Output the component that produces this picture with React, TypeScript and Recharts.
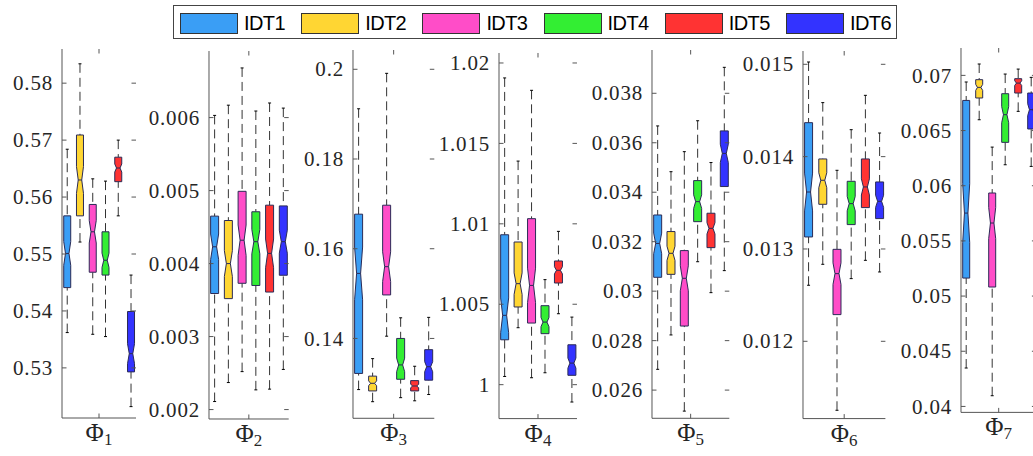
import React from "react";
import { ComposedChart, Bar, XAxis, YAxis } from "recharts";

const groups = ["IDT1", "IDT2", "IDT3", "IDT4", "IDT5", "IDT6"];
const colors = ["#3a9ef5", "#ffd633", "#ff4dc8", "#33ee33", "#ff3333", "#3333ff"];

// each row: [whisker low, q1, median, q3, whisker high]
const phi1 = [
  [0.5362, 0.5441, 0.5501, 0.5567, 0.5684],
  [0.5521, 0.5567, 0.563, 0.5709, 0.5834],
  [0.5359, 0.5468, 0.5539, 0.5587, 0.5632],
  [0.5355, 0.5463, 0.5489, 0.5539, 0.5628],
  [0.5567, 0.5627, 0.5651, 0.567, 0.57],
  [0.5232, 0.5293, 0.5325, 0.5399, 0.5463],
];
const phi2 = [
  [0.00211, 0.00359, 0.00423, 0.00465, 0.00603],
  [0.00237, 0.00352, 0.004, 0.00459, 0.00617],
  [0.00252, 0.00373, 0.00432, 0.00499, 0.00668],
  [0.00227, 0.0037, 0.0043, 0.00471, 0.00609],
  [0.00228, 0.00361, 0.00414, 0.0048, 0.0062],
  [0.00255, 0.00384, 0.0043, 0.00479, 0.00613],
];
const phi3 = [
  [0.1286, 0.1322, 0.1545, 0.1677, 0.1912],
  [0.1259, 0.1283, 0.13, 0.1316, 0.1355],
  [0.1405, 0.1497, 0.156, 0.1697, 0.1991],
  [0.1268, 0.1309, 0.1341, 0.14, 0.1446],
  [0.1261, 0.1283, 0.1294, 0.1306, 0.1338],
  [0.1275, 0.1307, 0.1337, 0.1375, 0.1447],
];
const phi4 = [
  [1.00051, 1.00279, 1.00431, 1.00932, 1.01907],
  [1.00354, 1.00483, 1.00628, 1.00887, 1.0139],
  [1.00043, 1.00383, 1.00617, 1.01032, 1.0183],
  [1.00074, 1.00317, 1.00389, 1.00491, 1.00653],
  [1.00441, 1.00632, 1.00711, 1.00769, 1.00953],
  [0.99892, 1.00058, 1.00134, 1.00248, 1.0042],
];
const phi5 = [
  [0.02684, 0.03056, 0.03193, 0.03308, 0.03668],
  [0.02823, 0.03068, 0.03153, 0.03241, 0.03483],
  [0.02515, 0.02859, 0.03052, 0.03164, 0.03564],
  [0.03119, 0.03281, 0.03362, 0.03447, 0.03689],
  [0.02994, 0.03176, 0.03254, 0.03315, 0.0352],
  [0.03083, 0.03423, 0.03557, 0.03648, 0.03905],
];
const phi6 = [
  [0.012607, 0.01313, 0.013617, 0.014368, 0.015025],
  [0.012834, 0.013484, 0.013744, 0.013975, 0.014585],
  [0.011253, 0.012289, 0.012733, 0.012996, 0.013852],
  [0.012679, 0.013264, 0.013491, 0.013733, 0.014292],
  [0.012877, 0.013448, 0.013672, 0.013975, 0.014664],
  [0.012751, 0.013329, 0.013516, 0.013726, 0.014256],
];
const phi7 = [
  [0.04348, 0.05163, 0.05752, 0.06773, 0.0694],
  [0.06598, 0.06795, 0.06891, 0.06961, 0.07103],
  [0.04097, 0.05082, 0.05662, 0.05934, 0.0635],
  [0.0619, 0.06393, 0.06644, 0.06834, 0.07012],
  [0.06674, 0.0684, 0.0693, 0.0697, 0.07057],
  [0.06175, 0.06514, 0.06689, 0.0684, 0.06982],
];

const ticks1 = [0.53, 0.54, 0.55, 0.56, 0.57, 0.58];
const ticks2 = [0.002, 0.003, 0.004, 0.005, 0.006];
const ticks3 = [0.14, 0.16, 0.18, 0.2];
const ticks4 = [1, 1.005, 1.01, 1.015, 1.02];
const ticks5 = [0.026, 0.028, 0.03, 0.032, 0.034, 0.036, 0.038];
const ticks6 = [0.012, 0.013, 0.014, 0.015];
const ticks7 = [0.04, 0.045, 0.05, 0.055, 0.06, 0.065, 0.07];

const panels = [
  { stats: phi1, ticks: ticks1, domain: [0.5212, 0.586], left: 62, right: 136, top: 49, bottom: 418 },
  { stats: phi2, ticks: ticks2, domain: [0.001871, 0.006912], left: 209.3, right: 289, top: 50.7, bottom: 418.7 },
  { stats: phi3, ticks: ticks3, domain: [0.1222, 0.2043], left: 352.7, right: 434, top: 50, bottom: 418.3 },
  { stats: phi4, ticks: ticks4, domain: [0.99789, 1.02062], left: 498.7, right: 576.7, top: 52.7, bottom: 418.3 },
  { stats: phi5, ticks: ticks5, domain: [0.02486, 0.03975], left: 651.7, right: 729, top: 50, bottom: 418.3 },
  { stats: phi6, ticks: ticks6, domain: [0.011163, 0.015144], left: 803.3, right: 885.7, top: 50.7, bottom: 418.3 },
  { stats: phi7, ticks: ticks7, domain: [0.03946, 0.07248], left: 961.3, right: 1036.7, top: 48.3, bottom: 412.7 },
];

const AXW = 60;
const FRAME = "#555";
const SERIF = '"Liberation Serif", "DejaVu Serif", serif';

function NotchBox(props: any) {
  const { x, y, width, height, payload } = props;
  const [lo, q1, med, q3, hi] = payload.stats;
  const yOf = (v: number) => y + ((hi - v) / (hi - lo)) * height;
  const cx = x + width / 2;
  const hw = width / 2;
  const qw = width / 4;
  const notch = (1.57 * (q3 - q1)) / Math.sqrt(90);
  const yq1 = yOf(q1);
  const yq3 = yOf(q3);
  const ym = yOf(med);
  const yn1 = yOf(med - notch);
  const yn2 = yOf(med + notch);
  const pts = [
    [cx - hw, yq3], [cx + hw, yq3], [cx + hw, yn2], [cx + qw, ym], [cx + hw, yn1],
    [cx + hw, yq1], [cx - hw, yq1], [cx - hw, yn1], [cx - qw, ym], [cx - hw, yn2],
  ]
    .map((p) => p.join(","))
    .join(" ");
  const ylo = yOf(lo);
  const yhi = yOf(hi);
  return (
    <g>
      <line x1={cx} x2={cx} y1={yhi} y2={yq3} stroke="#333" strokeWidth={1} strokeDasharray="9 5" />
      <line x1={cx} x2={cx} y1={ylo} y2={yq1} stroke="#333" strokeWidth={1} strokeDasharray="9 5" />
      <line x1={cx - 1.5} x2={cx + 1.5} y1={yhi} y2={yhi} stroke="#000" strokeWidth={1} />
      <line x1={cx - 1.5} x2={cx + 1.5} y1={ylo} y2={ylo} stroke="#000" strokeWidth={1} />
      <polygon points={pts} fill={payload.color} stroke="#2a2a55" strokeWidth={1} />
      <line x1={cx - qw} x2={cx + qw} y1={ym} y2={ym} stroke="#2a2a55" strokeWidth={1} />
    </g>
  );
}

function Panel({ p, n }: { p: (typeof panels)[number]; n: number }) {
  const W = p.right - p.left;
  const H = p.bottom - p.top;
  const band = W / 5.8;
  const pad = -(band * 6 - W) / 2;
  const data = groups.map((g, i) => ({
    name: g,
    range: [p.stats[i][0], p.stats[i][4]],
    stats: p.stats[i],
    color: colors[i],
  }));

  const yTick = (t: any) => {
    const ax = t.x + 9;
    return (
      <g>
        <line x1={ax} x2={ax + 4.5} y1={t.y} y2={t.y} stroke={FRAME} />
        <line x1={ax + W - 4.5} x2={ax + W} y1={t.y} y2={t.y} stroke={FRAME} />
        <text
          x={t.x}
          y={t.y}
          dy="0.34em"
          textAnchor="end"
          style={{ fontFamily: SERIF, fontSize: 21, letterSpacing: 0.8 }}
          fill="#262626"
        >
          {String(t.payload.value)}
        </text>
      </g>
    );
  };

  const xTick = (t: any) => {
    if (t.index !== 0) return <g />;
    const cx = AXW + W / 2;
    return (
      <g>
        <line x1={cx} x2={cx} y1={t.y} y2={t.y - 4.5} stroke={FRAME} />
        <line x1={cx} x2={cx} y1={t.y - H} y2={t.y - H + 4.5} stroke={FRAME} />
        <text x={cx} y={t.y + 23} textAnchor="middle" style={{ fontFamily: SERIF }} fill="#262626">
          <tspan style={{ fontSize: 25 }}>Φ</tspan>
          <tspan style={{ fontSize: 17 }} dy={4}>
            {n}
          </tspan>
        </text>
      </g>
    );
  };

  return (
    <div style={{ position: "absolute", left: p.left - AXW, top: p.top - 1 }}>
      <ComposedChart
        width={AXW + W + 2}
        height={H + 41}
        data={data}
        margin={{ top: 1, right: 2, bottom: 0, left: 0 }}
      >
        <XAxis
          dataKey="name"
          padding={{ left: pad, right: pad }}
          interval={0}
          tickLine={false}
          tickSize={0}
          tickMargin={0}
          height={40}
          axisLine={{ stroke: FRAME }}
          tick={xTick}
        />
        <XAxis
          xAxisId="top"
          dataKey="name"
          orientation="top"
          height={0}
          tick={false}
          tickLine={false}
          axisLine={{ stroke: FRAME }}
        />
        <YAxis
          type="number"
          domain={p.domain}
          ticks={p.ticks}
          allowDataOverflow
          width={AXW}
          tickLine={false}
          tickSize={0}
          tickMargin={9}
          axisLine={{ stroke: FRAME }}
          tick={yTick}
          interval={0}
        />
        <YAxis
          yAxisId="right"
          orientation="right"
          type="number"
          domain={p.domain}
          allowDataOverflow
          width={0}
          tick={false}
          tickLine={false}
          axisLine={{ stroke: FRAME }}
        />
        <Bar
          dataKey="range"
          barSize={Math.round(band * 0.57)}
          isAnimationActive={false}
          shape={(s: any) => <NotchBox {...s} />}
        />
      </ComposedChart>
    </div>
  );
}

function Legend() {
  return (
    <div
      style={{
        position: "absolute",
        left: 173,
        top: 5,
        width: 724,
        height: 34,
        border: "1px solid #444",
        background: "#fff",
        boxSizing: "border-box",
      }}
    >
      {groups.map((g, i) => (
        <div key={g} style={{ position: "absolute", left: 6 + i * 121.2, top: 7, display: "flex", alignItems: "center" }}>
          <div style={{ width: 58, height: 21, background: colors[i], border: "1px solid #333", boxSizing: "border-box" }} />
          <span
            style={{
              marginLeft: 6,
              fontFamily: "'Liberation Sans', Arial, sans-serif",
              fontSize: 20,
              letterSpacing: -0.6,
              lineHeight: "21px",
              color: "#000",
            }}
          >
            {g}
          </span>
        </div>
      ))}
    </div>
  );
}

export default function App() {
  return (
    <div
      style={{
        position: "absolute",
        left: 0,
        top: 0,
        width: 1033,
        height: 456,
        overflow: "hidden",
        background: "#fff",
      }}
    >
      {panels.map((p, i) => (
        <Panel key={i} p={p} n={i + 1} />
      ))}
      <Legend />
    </div>
  );
}
